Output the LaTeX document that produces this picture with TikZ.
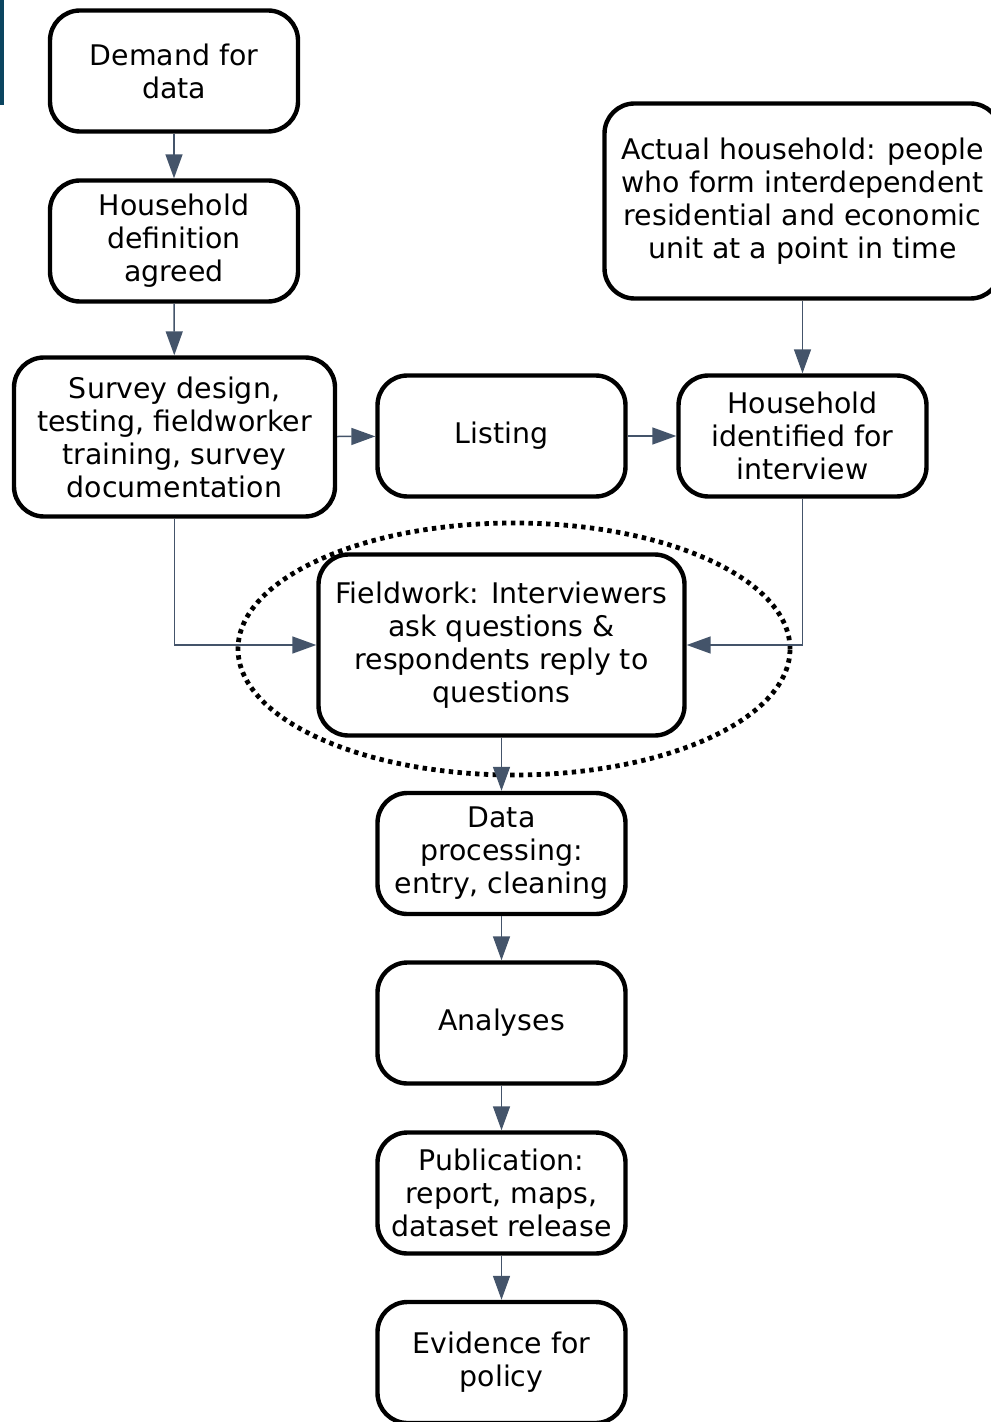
\documentclass[tikz,border=0pt]{standalone}
\usepackage{fontspec}
\setmainfont{DejaVu Sans}
\usetikzlibrary{arrows.meta,positioning}
\definecolor{linkblue}{HTML}{44546A}
\definecolor{barblue}{HTML}{0B4560}

\begin{document}
\begin{tikzpicture}[x=0.5pt,y=-0.5pt,
  box/.style={draw,line width=2.2pt,rounded corners=15pt,fill=white,align=center,
    minimum width=124pt,minimum height=60.5pt,inner sep=2pt,
    font=\fontsize{14.2}{16.5}\selectfont},
  link/.style={draw=linkblue,line width=0.75pt,-{Triangle[length=12pt,width=8.5pt]}},
  ring/.style={line width=2.4pt,dash pattern=on 2.2pt off 2.2pt}]
  \useasboundingbox (0,0) rectangle (990,1422);
  \fill[barblue] (0,0) rectangle (4,105);

  % left column
  \node[box] (demand) at (174,71) {Demand for\\data};
  \node[box] (hdef) at (174,241) {Household\\definition\\agreed};
  \node[box,minimum width=160.5pt,minimum height=79.5pt] (survey) at (174.5,437)
    {Survey design,\\testing, fieldworker\\training, survey\\documentation};

  % middle row
  \node[box] (listing) at (501.5,436) {Listing};
  \node[box] (hid) at (802.5,436) {Household\\identified for\\interview};
  \node[box,minimum width=198pt,minimum height=97.5pt] (actual) at (802.5,201)
    {Actual household: people\\who form interdependent\\residential and economic\\unit at a point in time};

  % fieldwork and what follows
  \node[box,minimum width=183pt,minimum height=90.5pt] (field) at (501.5,645)
    {Fieldwork: Interviewers\\ask questions \&\\respondents reply to\\questions};
  \draw[ring] (514,649) ellipse [x radius=138pt,y radius=63pt];
  \node[box] (proc) at (501.5,853.5) {Data\\processing:\\entry, cleaning};
  \node[box] (anal) at (501.5,1023) {Analyses};
  \node[box] (publ) at (501.5,1193) {Publication:\\report, maps,\\dataset release};
  \node[box] (evid) at (501.5,1362.5) {Evidence for\\policy};

  % connectors
  \draw[link] (demand) -- (hdef);
  \draw[link] (hdef) -- (survey);
  \draw[link] (survey) -- (listing);
  \draw[link] (listing) -- (hid);
  \draw[link] (actual) -- (hid);
  \draw[link] (survey.south) |- (field.west);
  \draw[link] (hid.south) |- (field.east);
  \draw[link] (field) -- (proc);
  \draw[link] (proc) -- (anal);
  \draw[link] (anal) -- (publ);
  \draw[link] (publ) -- (evid);
\end{tikzpicture}
\end{document}
